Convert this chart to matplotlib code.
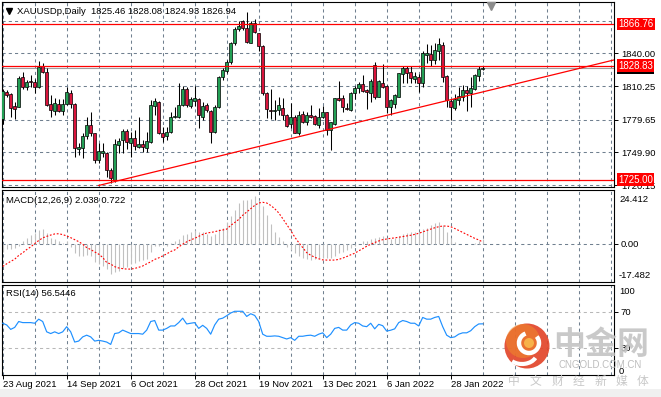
import matplotlib
matplotlib.use("Agg")
import matplotlib.pyplot as plt
from matplotlib.patches import Rectangle, Circle, Arc
import numpy as np

plt.rcParams['font.family'] = ['Liberation Sans', 'DejaVu Sans']

# ---------------- data ----------------
symbol = "XAUUSDp,Daily"

opens = [
    1779.9, 1804.5, 1802.7, 1792.1, 1791.5, 1818.2, 1809.1, 1814.8, 1814.2, 1809.1,
    1828.5, 1823.3, 1793.9, 1787.8, 1793.9, 1787.8, 1793.9, 1804.2, 1793.9, 1752.9,
    1753.5, 1764.8, 1774.8, 1767.2, 1742.9, 1749.6, 1749.0, 1733.8, 1724.7, 1756.6,
    1761.1, 1769.3, 1758.7, 1763.3, 1755.1, 1757.5, 1753.5, 1759.6, 1792.1, 1796.0,
    1767.2, 1764.8, 1768.4, 1781.8, 1782.4, 1793.0, 1807.2, 1792.1, 1796.6, 1798.1,
    1782.4, 1792.7, 1787.5, 1768.7, 1790.9, 1818.2, 1824.2, 1831.8, 1849.1, 1861.9,
    1869.7, 1862.8, 1849.7, 1867.3, 1858.2, 1846.7, 1804.2, 1788.4, 1787.8, 1788.4,
    1789.9, 1783.9, 1775.7, 1781.8, 1767.8, 1784.5, 1777.8, 1783.9, 1783.0, 1774.8,
    1782.4, 1786.3, 1770.2, 1775.7, 1799.1, 1799.1, 1790.6, 1788.4, 1803.6, 1808.2,
    1811.8, 1806.6, 1804.2, 1829.4, 1800.6, 1813.3, 1810.3, 1790.9, 1793.9, 1800.6,
    1821.2, 1826.4, 1823.3, 1817.0, 1818.2, 1813.3, 1838.5, 1839.4, 1833.9, 1842.4,
    1847.6, 1819.4, 1796.9, 1789.9, 1797.5, 1800.6, 1806.6, 1804.2, 1807.2, 1819.4,
    1825.46]
highs = [
    1807.2, 1806.6, 1803.6, 1796.0, 1819.4, 1823.3, 1815.7, 1820.3, 1816.6, 1833.3,
    1830.9, 1826.4, 1802.1, 1799.1, 1798.1, 1798.7, 1809.1, 1806.6, 1794.5, 1758.1,
    1767.8, 1782.4, 1786.9, 1767.8, 1758.1, 1758.1, 1750.5, 1735.3, 1761.7, 1762.6,
    1770.8, 1770.8, 1768.7, 1770.2, 1781.8, 1761.1, 1768.7, 1797.5, 1799.1, 1796.6,
    1773.3, 1772.6, 1786.9, 1791.5, 1813.3, 1810.3, 1809.1, 1800.6, 1810.3, 1799.1,
    1796.0, 1794.5, 1788.4, 1793.0, 1819.4, 1826.4, 1833.9, 1850.6, 1864.3, 1869.7,
    1870.4, 1877.3, 1869.7, 1871.0, 1858.8, 1847.6, 1805.1, 1807.2, 1797.5, 1800.6,
    1799.1, 1784.5, 1794.5, 1783.9, 1787.8, 1787.8, 1786.9, 1793.0, 1783.9, 1789.9,
    1792.1, 1786.9, 1777.8, 1799.7, 1815.1, 1802.1, 1794.5, 1805.1, 1810.3, 1814.2,
    1820.3, 1807.2, 1816.3, 1832.4, 1815.7, 1830.3, 1811.2, 1798.1, 1803.0, 1822.4,
    1828.5, 1828.5, 1828.5, 1823.3, 1821.2, 1842.4, 1848.5, 1847.6, 1849.7, 1853.7,
    1850.6, 1820.3, 1798.1, 1803.0, 1809.1, 1811.2, 1810.3, 1818.8, 1821.2, 1828.5,
    1828.08]
lows = [
    1775.7, 1800.0, 1782.4, 1779.9, 1790.9, 1807.2, 1806.6, 1809.1, 1804.2, 1808.5,
    1822.4, 1792.1, 1782.4, 1783.9, 1786.9, 1783.9, 1793.0, 1789.9, 1746.0, 1747.5,
    1744.4, 1761.7, 1764.8, 1739.9, 1739.9, 1746.0, 1727.8, 1721.7, 1723.2, 1749.0,
    1749.6, 1752.6, 1746.0, 1752.0, 1753.5, 1750.5, 1750.5, 1758.1, 1783.9, 1766.6,
    1759.6, 1761.1, 1767.2, 1780.8, 1780.8, 1792.1, 1791.5, 1789.9, 1792.1, 1771.8,
    1779.3, 1786.9, 1758.7, 1767.8, 1789.9, 1815.7, 1821.8, 1830.3, 1847.6, 1860.6,
    1861.2, 1849.7, 1849.1, 1858.8, 1842.4, 1802.1, 1780.8, 1779.9, 1779.3, 1783.9,
    1779.3, 1773.3, 1771.8, 1767.2, 1765.7, 1776.9, 1774.8, 1780.8, 1774.8, 1771.8,
    1780.8, 1765.7, 1752.0, 1774.8, 1797.0, 1786.9, 1788.4, 1787.8, 1798.1, 1803.6,
    1805.1, 1789.0, 1796.0, 1798.1, 1799.9, 1808.2, 1785.4, 1783.9, 1789.9, 1800.0,
    1813.3, 1812.7, 1813.3, 1812.7, 1805.1, 1809.7, 1830.9, 1828.5, 1830.0, 1833.9,
    1814.2, 1790.9, 1779.3, 1788.4, 1792.9, 1796.9, 1787.8, 1791.5, 1806.6, 1815.1,
    1824.93]
closes = [
    1806.0, 1802.1, 1789.9, 1789.6, 1817.3, 1809.7, 1814.2, 1813.6, 1809.1, 1827.9,
    1823.3, 1793.0, 1788.4, 1794.5, 1787.8, 1793.6, 1804.5, 1793.9, 1753.5, 1755.1,
    1764.8, 1774.8, 1767.8, 1742.9, 1751.1, 1751.4, 1733.8, 1726.2, 1757.5, 1760.5,
    1769.3, 1759.6, 1762.6, 1755.7, 1757.5, 1754.5, 1759.9, 1792.7, 1796.9, 1767.2,
    1764.2, 1768.7, 1782.4, 1783.0, 1793.0, 1807.2, 1793.0, 1798.1, 1799.1, 1783.9,
    1792.1, 1788.4, 1768.7, 1791.5, 1818.2, 1824.8, 1832.4, 1849.1, 1861.9, 1864.9,
    1862.8, 1850.6, 1867.3, 1859.7, 1846.7, 1804.2, 1789.0, 1787.8, 1788.4, 1792.7,
    1783.9, 1773.9, 1781.8, 1767.8, 1783.9, 1777.8, 1783.9, 1782.4, 1775.7, 1782.4,
    1786.3, 1770.2, 1777.2, 1799.1, 1797.5, 1790.9, 1789.0, 1803.6, 1808.2, 1812.1,
    1806.0, 1805.1, 1814.8, 1800.6, 1815.1, 1809.7, 1790.9, 1797.5, 1802.1, 1821.8,
    1827.0, 1822.4, 1817.3, 1819.4, 1813.3, 1840.6, 1840.6, 1833.9, 1843.0, 1848.5,
    1818.8, 1797.5, 1791.5, 1798.1, 1801.2, 1806.6, 1804.2, 1808.2, 1820.3, 1825.5,
    1826.94]

macd_main = [
    -4.0, -2.5, -2.5, -1.8, -1.0, 1.2, 2.7, 3.8, 5.0, 6.2,
    6.5, 5.0, 2.7, 2.0, 1.2, 0.5, 1.0, -1.5, -4.5, -5.5,
    -5.8, -5.3, -5.5, -8.5, -9.5, -10.0, -11.5, -14.0, -13.0, -12.5,
    -11.0, -10.5, -9.5, -9.0, -8.0, -7.5, -7.0, -4.0, -1.2, -1.0,
    -0.5, -1.0, 0.2, 1.0, 2.0, 4.0, 4.5, 5.5, 6.0, 5.5,
    5.5, 4.2, 3.5, 4.5, 6.5, 7.2, 10.0, 12.5, 15.5, 18.5,
    20.0, 20.0, 20.5, 21.5, 20.0, 17.0, 13.0, 9.0, 5.5, 3.0,
    1.0, -1.5, -3.0, -4.5, -5.5, -6.5, -7.0, -7.5, -7.0, -6.5,
    -6.5, -6.5, -6.5, -5.5, -4.5, -4.0, -3.0, -2.2, -1.0, 0.0,
    1.0, 1.2, 2.0, 2.5, 3.0, 3.5, 2.5, 2.2, 2.5, 3.5,
    4.2, 5.0, 5.2, 5.5, 5.5, 6.5, 7.0, 8.5, 9.5, 10.0,
    8.5, 5.5, 2.5, 0.8, -0.3, -0.2, -0.4, -0.3, 0.5, 1.4,
    2.038]
macd_signal = [
    -10.4, -9.2, -8.1, -7.1, -5.4, -4.2, -2.7, -1.5, 0.0, 1.4,
    2.6, 3.3, 3.9, 4.4, 4.5, 4.1, 3.5, 2.7, 1.8, 0.9,
    -0.3, -1.8, -2.7, -3.8, -4.8, -6.3, -8.6, -9.3, -10.5, -11.1,
    -11.4, -11.6, -11.6, -11.3, -10.8, -10.2, -9.2, -8.3, -7.2, -6.5,
    -5.6, -4.7, -3.6, -2.9, -1.5, -0.3, 0.8, 1.7, 2.4, 3.3,
    4.2, 4.8, 5.1, 5.4, 5.9, 6.2, 6.6, 8.3, 9.6, 11.0,
    12.9, 14.4, 15.9, 17.4, 18.5, 18.8, 18.5, 17.4, 15.9, 14.0,
    11.4, 8.7, 6.0, 3.0, 0.5, -1.8, -4.1, -5.3, -6.2, -6.9,
    -7.4, -7.5, -7.5, -7.5, -7.2, -6.6, -5.9, -5.1, -4.4, -3.3,
    -2.3, -1.2, -0.3, 0.5, 1.2, 1.8, 2.1, 2.4, 2.6, 2.9,
    3.2, 3.5, 3.8, 4.2, 4.7, 5.3, 6.0, 6.6, 7.2, 7.7,
    8.0, 8.0, 7.7, 6.9, 6.0, 5.1, 4.2, 3.3, 2.4, 1.7,
    0.722]
rsi = [
    57.2, 55.3, 50.4, 52.6, 59.1, 57.9, 57.9, 57.9, 57.2, 61.7,
    59.1, 47.7, 45.8, 47.7, 45.8, 47.7, 53.4, 47.7, 36.4, 37.5,
    42.1, 44.0, 42.1, 37.5, 38.3, 37.5, 36.4, 33.8, 45.8, 46.6,
    49.6, 47.7, 45.8, 45.8, 45.8, 45.1, 49.6, 59.1, 60.2, 49.6,
    49.6, 51.5, 54.2, 54.2, 57.9, 62.8, 56.4, 57.2, 57.9, 51.5,
    54.9, 51.5, 45.1, 55.3, 61.7, 62.8, 65.5, 68.5, 70.4, 70.4,
    70.4, 64.7, 67.7, 65.8, 59.1, 45.1, 42.8, 42.8, 43.2, 42.8,
    41.3, 39.8, 41.3, 38.3, 42.8, 42.8, 43.6, 44.0, 42.8, 45.1,
    46.6, 41.3, 45.1, 51.5, 52.6, 49.6, 49.6, 55.3, 57.9, 57.2,
    54.2, 53.4, 57.2, 51.0, 56.0, 54.5, 48.5, 49.5, 51.0, 57.9,
    60.2, 59.1, 57.2, 57.2, 54.2, 63.6, 61.7, 61.7, 63.6, 64.7,
    53.4, 44.0, 41.3, 42.1, 45.1, 46.6, 46.6, 48.9, 53.4, 56.4,
    56.5446]

date_labels = ["23 Aug 2021", "14 Sep 2021", "6 Oct 2021", "28 Oct 2021",
               "19 Nov 2021", "13 Dec 2021", "6 Jan 2022", "28 Jan 2022"]
date_label_bars = [0, 16, 32, 48, 64, 80, 96, 112]

price_ticks = [1840.00, 1810.25, 1779.65, 1749.90, 1720.15]
price_grid = [1869.75, 1840.00, 1810.25, 1779.65, 1749.90, 1720.15]
level_lines = [1866.76, 1828.83, 1725.00]
trend_bars = [24, 112]
trend_prices = [1719.8, 1797.8]
macd_range = [-17.482, 24.412]

# ---------------- figure layout ----------------
W, H = 661, 397
fig = plt.figure(figsize=(W / 100, H / 100), dpi=100, facecolor='white')


def px_rect(left, top, right, bottom):
    return [left / W, 1 - bottom / H, (right - left) / W, (bottom - top) / H]


ax_main = fig.add_axes(px_rect(2, 2, 614, 187))
ax_macd = fig.add_axes(px_rect(2, 190, 614, 282))
ax_rsi = fig.add_axes(px_rect(2, 284.5, 614, 375))

GRID = '#708090'
PX = 0.72  # points per pixel
FS = 6.8
n = len(closes)
x = np.arange(n)
xlim = (-0.175, 152.825)

for ax in (ax_main, ax_macd, ax_rsi):
    ax.set_facecolor('white')
    ax.set_xlim(*xlim)
    for s in ax.spines.values():
        s.set_linewidth(0.8)
        s.set_color('black')
    for gx in range(0, 153, 8):
        ax.axvline(gx, color=GRID, lw=0.75, ls=(0, (3, 3)), zorder=1)
    ax.yaxis.tick_right()
    ax.tick_params(axis='y', length=3, width=0.7, pad=2, labelsize=FS, colors='black')
    ax.tick_params(axis='x', bottom=False, labelbottom=False)

# ---------------- main price panel ----------------
ax_main.set_ylim(1718.4, 1886.7)
for gy in price_grid:
    ax_main.axhline(gy, color=GRID, lw=0.75, ls=(0, (3, 3)), zorder=1)
ax_main.set_yticks(price_ticks)
ax_main.set_yticklabels([f"{v:.2f}" for v in price_ticks])

o = np.array(opens); c = np.array(closes); h = np.array(highs); l = np.array(lows)
up = c >= o
colors = np.where(up, '#23a055', '#d9143c')
ax_main.vlines(x, l, h, color='black', lw=0.75, zorder=3)
body_h = np.maximum(np.abs(c - o), 0.15)
ax_main.bar(x, body_h, bottom=np.minimum(o, c), width=0.72, color=colors,
            edgecolor='black', linewidth=0.5, zorder=4)

ax_main.axhline(closes[-1], color='#a0a0a0', lw=0.8, zorder=2)
for lv in level_lines:
    ax_main.axhline(lv, color='red', lw=0.9, zorder=5)

# trend line: ray from the first anchor through the second, to the right edge
slope = (trend_prices[1] - trend_prices[0]) / (trend_bars[1] - trend_bars[0])
ray_x = [trend_bars[0], xlim[1]]
ray_y = [trend_prices[0], trend_prices[0] + slope * (xlim[1] - trend_bars[0])]
ax_main.plot(ray_x, ray_y, color='red', lw=0.9, zorder=5)


def price_box(ax, val, text, fc, z):
    ax.annotate(text, xy=(1, val), xycoords=ax.get_yaxis_transform(),
                xytext=(4 * PX, 0), textcoords='offset points', ha='left', va='center',
                fontsize=FS + 0.2, color='white', zorder=z, annotation_clip=False,
                bbox=dict(boxstyle='square,pad=0.14', fc=fc, ec='none'))


price_box(ax_main, closes[-1], f"{closes[-1]:.2f}", 'black', 10)
for lv in level_lines:
    price_box(ax_main, lv, f"{lv:.2f}", '#ff0000', 11)

header = f"{symbol}  {opens[-1]:.2f} {highs[-1]:.2f} {lows[-1]:.2f} {closes[-1]:.2f}"
ax_main.annotate(header, xy=(0, 1), xycoords='axes fraction', xytext=(15 * PX, -9 * PX),
                 textcoords='offset points', ha='left', va='center', fontsize=FS,
                 color='black', zorder=12)
ax_main.plot([6.5 / 612], [1 - 8.5 / 185], marker='v', ms=4.2, color='black',
             transform=ax_main.transAxes, clip_on=False, zorder=12)
ax_main.plot([(491 - 2) / 612], [1 - 3.5 / 185], marker='v', ms=6, color='#8c8c8c',
             transform=ax_main.transAxes, clip_on=False, zorder=12)

# ---------------- MACD panel ----------------
ax_macd.set_ylim(*macd_range)
ax_macd.axhline(0, color=GRID, lw=0.75, ls=(0, (3, 3)), zorder=1)
ax_macd.vlines(x, 0, macd_main, color='#c0c0c0', lw=0.8, zorder=2)
ax_macd.plot(x, macd_signal, color='red', lw=0.8, ls=(0, (1.6, 1.6)), zorder=3)
ax_macd.set_yticks([0])
ax_macd.set_yticklabels(['0.00'])
ax_macd.annotate(f"{macd_range[1]:.3f}", xy=(1, 1), xycoords='axes fraction',
                 xytext=(5 * PX, -9 * PX), textcoords='offset points', ha='left',
                 va='center', fontsize=FS, annotation_clip=False)
ax_macd.annotate(f"{macd_range[0]:.3f}", xy=(1, 0), xycoords='axes fraction',
                 xytext=(5 * PX, 7 * PX), textcoords='offset points', ha='left',
                 va='center', fontsize=FS, annotation_clip=False)
ax_macd.annotate(f"MACD(12,26,9) {macd_main[-1]:.3f} {macd_signal[-1]:.3f}", xy=(0, 1),
                 xycoords='axes fraction', xytext=(4 * PX, -10.5 * PX),
                 textcoords='offset points', ha='left', va='center', fontsize=FS)

# ---------------- RSI panel ----------------
ax_rsi.set_ylim(0, 100)
for lv in (70, 30):
    ax_rsi.axhline(lv, color='#b8b8b8', lw=0.75, ls=(0, (3, 3)), zorder=1)
ax_rsi.plot(x, rsi, color='#1e90ff', lw=0.85, zorder=3)
ax_rsi.set_yticks([70, 30])
ax_rsi.set_yticklabels(['70', '30'])
ax_rsi.annotate("100", xy=(1, 1), xycoords='axes fraction', xytext=(5 * PX, -6.5 * PX),
                textcoords='offset points', ha='left', va='center', fontsize=FS,
                annotation_clip=False)
ax_rsi.annotate("0", xy=(1, 0), xycoords='axes fraction', xytext=(5 * PX, 4 * PX),
                textcoords='offset points', ha='left', va='center', fontsize=FS,
                annotation_clip=False)
ax_rsi.annotate(f"RSI(14) {rsi[-1]:.4f}", xy=(0, 1), xycoords='axes fraction',
                xytext=(4 * PX, -9.5 * PX), textcoords='offset points', ha='left',
                va='center', fontsize=FS)
ax_rsi.set_xticks(date_label_bars)
ax_rsi.set_xticklabels(date_labels, ha='left')
ax_rsi.tick_params(axis='x', bottom=True, labelbottom=True, length=3, width=0.7,
                   pad=0.5, labelsize=FS)

# ---------------- watermark overlay ----------------
ov = fig.add_axes([0, 0, 1, 1], zorder=20)
ov.set_xlim(0, W)
ov.set_ylim(H, 0)
ov.axis('off')
ov.patch.set_alpha(0)
ov.add_patch(Rectangle((0, 389), W, 8, fc='#f0f0f0', ec='none', zorder=0))
ov.add_patch(Circle((527, 346), 22.5, fc='#e2452a', ec='none', alpha=0.92, zorder=1))
ov.add_patch(Circle((523, 341), 17, fc='#f08c2a', ec='none', alpha=0.55, zorder=2))
ov.add_patch(Arc((529, 343), 20, 20, theta1=-40, theta2=250, lw=3.2, color='white', zorder=3))
ov.add_patch(Arc((522, 353), 30, 22, theta1=20, theta2=140, lw=3.0, color='white', zorder=3))
ov.add_patch(Circle((529, 343), 5, fc='#f7b24a', ec='none', zorder=3))
ov.text(601, 345, '中金网', fontsize=23, color='#c4c4c4', alpha=0.9, weight='bold',
        family=['Noto Sans CJK SC', 'DejaVu Sans'], ha='center', va='center', zorder=4)
ov.text(600, 365, 'CNGOLD.COM.CN', fontsize=7, color='#bdbdbd', ha='center',
        va='center', zorder=4)
for k, ch in enumerate('中文财经新媒体'):
    ov.text(514 + k * 21.5, 381, ch, fontsize=8.5, color='#c8c8c8', ha='center',
            va='center', family=['Noto Sans CJK SC', 'DejaVu Sans'], zorder=4)

fig.savefig('out.png', dpi=100, facecolor='white')
